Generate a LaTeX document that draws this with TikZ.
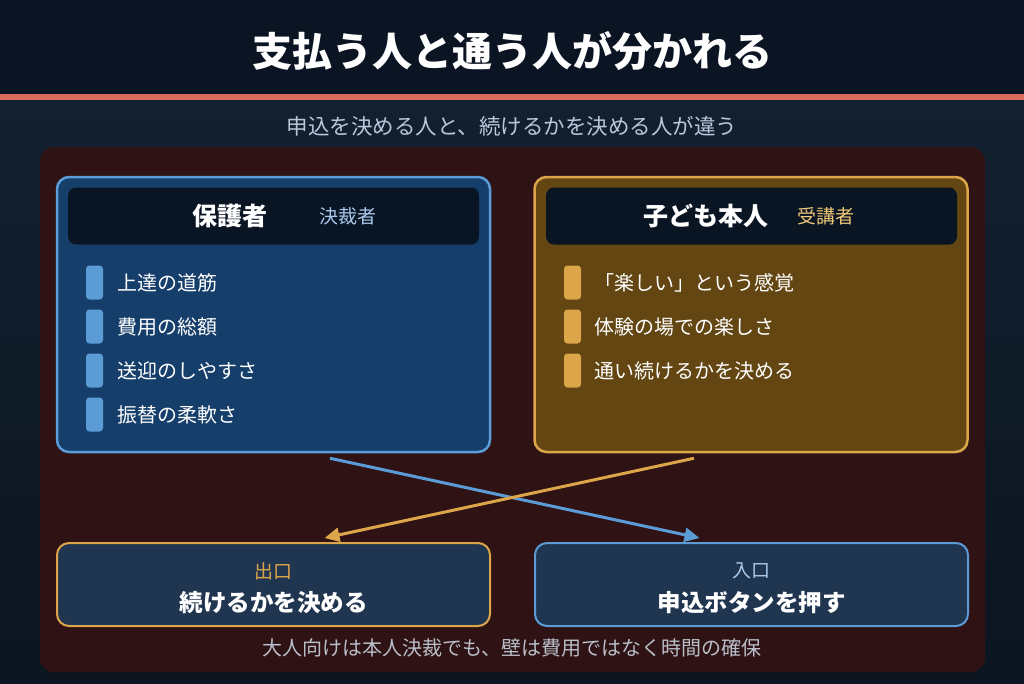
\documentclass[tikz,border=0pt]{standalone}
\usepackage{fontspec}
\setmainfont{Noto Sans CJK JP}
\usetikzlibrary{arrows.meta,calc}

\definecolor{topbg}{HTML}{0A1422}
\definecolor{lowbg}{HTML}{13202F}
\definecolor{lowbgend}{HTML}{0C1520}
\definecolor{redline}{HTML}{DA6A5B}
\definecolor{panelbg}{HTML}{2E1214}
\definecolor{headbg}{HTML}{0A1524}
\definecolor{bluefill}{HTML}{163E6B}
\definecolor{blueline}{HTML}{5B9BD6}
\definecolor{bluetext}{HTML}{A9C9EC}
\definecolor{goldfill}{HTML}{634612}
\definecolor{goldline}{HTML}{DCA54A}
\definecolor{goldtext}{HTML}{F0C878}
\definecolor{boxbg}{HTML}{1F3550}
\definecolor{subtext}{HTML}{B8C8DC}
\definecolor{foottext}{HTML}{B9BEC8}

\tikzset{
  card/.style={draw, line width=2.5pt, rounded corners=12pt, minimum width=433pt, minimum height=275pt},
  headbar/.style={fill=headbg, rounded corners=8pt, minimum width=411pt, minimum height=57pt},
  bullet/.style={rounded corners=3.5pt, minimum width=17pt, minimum height=34pt, inner sep=0pt},
  item/.style={anchor=west, inner sep=0pt, text=white, font=\fontsize{20}{24}\selectfont},
  bottombox/.style={draw, line width=2pt, fill=boxbg, rounded corners=12pt, minimum width=433pt, minimum height=83pt},
  flow/.style={line width=3pt, -{Triangle[length=15pt,width=14pt]}},
}

\begin{document}
\begin{tikzpicture}[x=1pt, y=-1pt]
  \useasboundingbox (0, 0) rectangle (1024, 683);
  % background and title band
  \shade [top color=lowbg, bottom color=lowbgend] (0, 95) rectangle (1024, 683);
  \fill [topbg] (0, 0) rectangle (1024, 95);
  \fill [redline] (0, 94) rectangle (1024, 99.5);
  \node [text=white, font=\fontsize{40}{46}\selectfont\bfseries] (title) at (512, 51) {支払う人と通う人が分かれる};
  \node [text=subtext, font=\fontsize{21.5}{26}\selectfont] (subtitle) at (512, 126) {申込を決める人と、続けるかを決める人が違う};

  \fill [panelbg, rounded corners=14pt] (40, 147) rectangle (985, 672);

  % guardian card
  \node [card, draw=blueline, fill=bluefill] (guardian) at (273.5, 314.5) {};
  \node [headbar] (ghead) at (273.5, 216) {};
  \node [text=white, font=\fontsize{25}{30}\selectfont\bfseries] (gname) at (229.5, 216) {保護者};
  \node [text=bluetext, font=\fontsize{19}{23}\selectfont] (grole) at (348, 216) {決裁者};
  \node [bullet, fill=blueline] (gb1) at (94.5, 282.5) {};
  \node [bullet, fill=blueline] (gb2) at (94.5, 326.5) {};
  \node [bullet, fill=blueline] (gb3) at (94.5, 370.5) {};
  \node [bullet, fill=blueline] (gb4) at (94.5, 414.5) {};
  \node [item] (gi1) at (117, 283) {上達の道筋};
  \node [item] (gi2) at (117, 327) {費用の総額};
  \node [item] (gi3) at (117, 371) {送迎のしやすさ};
  \node [item] (gi4) at (117, 415) {振替の柔軟さ};

  % child card
  \node [card, draw=goldline, fill=goldfill] (child) at (751, 314.5) {};
  \node [headbar] (chead) at (751.5, 216) {};
  \node [text=white, font=\fontsize{25}{30}\selectfont\bfseries] (cname) at (706, 216) {子ども本人};
  \node [text=goldtext, font=\fontsize{19}{23}\selectfont] (crole) at (826, 216) {受講者};
  \node [bullet, fill=goldline] (cb1) at (572.5, 282.5) {};
  \node [bullet, fill=goldline] (cb2) at (572.5, 326.5) {};
  \node [bullet, fill=goldline] (cb3) at (572.5, 370.5) {};
  \node [item] (ci1) at (594, 283) {「楽しい」という感覚};
  \node [item] (ci2) at (594, 327) {体験の場での楽しさ};
  \node [item] (ci3) at (594, 371) {通い続けるかを決める};

  % exit and entry
  \node [bottombox, draw=goldline] (exit) at (273.5, 584.5) {};
  \node [text=goldline, font=\fontsize{19}{23}\selectfont] (exitlabel) at (273.5, 571) {出口};
  \node [text=white, font=\fontsize{23.5}{28}\selectfont\bfseries] (exittext) at (273.5, 603) {続けるかを決める};
  \node [bottombox, draw=blueline] (entry) at (751.5, 584.5) {};
  \node [text=bluetext, font=\fontsize{19}{23}\selectfont] (entrylabel) at (751.5, 571) {入口};
  \node [text=white, font=\fontsize{23.5}{28}\selectfont\bfseries] (entrytext) at (751.5, 603) {申込ボタンを押す};

  \draw [flow, blueline] ($(guardian.south)+(56.5, 5)$) -- ($(entry.north)+(-52, -4)$);
  \draw [flow, goldline] ($(child.south)+(-57, 5)$) -- ($(exit.north)+(51, -4)$);

  \node [text=foottext, font=\fontsize{20}{24}\selectfont] (footer) at (512, 648) {大人向けは本人決裁でも、壁は費用ではなく時間の確保};
\end{tikzpicture}
\end{document}
